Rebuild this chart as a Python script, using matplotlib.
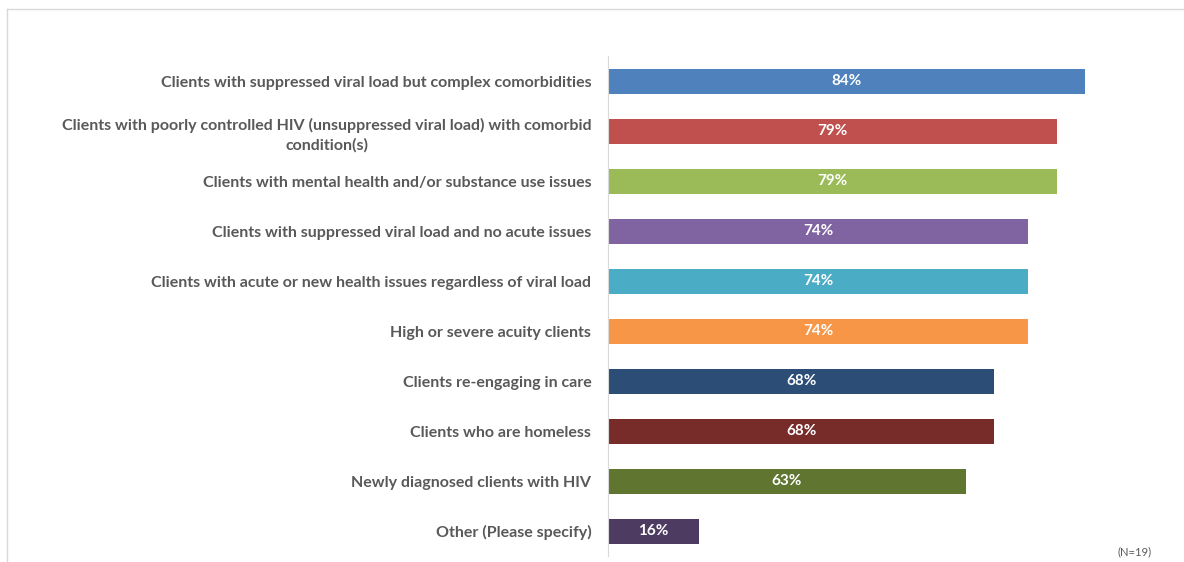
import matplotlib.pyplot as plt
from matplotlib.lines import Line2D

plt.rcParams['font.family'] = ['Lato', 'DejaVu Sans']

categories = [
    'Clients with suppressed viral load but complex comorbidities',
    'Clients with poorly controlled HIV (unsuppressed viral load) with comorbid\ncondition(s)',
    'Clients with mental health and/or substance use issues',
    'Clients with suppressed viral load and no acute issues',
    'Clients with acute or new health issues regardless of viral load',
    'High or severe acuity clients',
    'Clients re-engaging in care',
    'Clients who are homeless',
    'Newly diagnosed clients with HIV',
    'Other (Please specify)',
]
values = [84, 79, 79, 74, 74, 74, 68, 68, 63, 16]
colors = ['#4F81BD', '#C0504D', '#9BBB59', '#8064A2', '#4BACC6',
          '#F79646', '#2C4D75', '#772C2A', '#5F7530', '#4D3B62']

fig = plt.figure(figsize=(11.84, 5.62), dpi=100)
ax = fig.add_axes([0.5135, 0.0105, 0.4797, 0.8897])

pos = list(range(len(categories)))
ax.barh(pos, values, height=0.5, color=colors)
ax.set_ylim(len(categories) - 0.5, -0.5)
ax.set_xlim(0, 100)

for y, v in zip(pos, values):
    ax.text(v / 2, y, f'{v}%', ha='center', va='center', color='white',
            fontsize=11, fontweight='bold')

ax.set_yticks(pos)
ax.set_yticklabels(categories, fontsize=11.5, fontweight='bold', color='#595959',
                   multialignment='center', linespacing=1.45)
ax.tick_params(axis='y', length=0, pad=12)
ax.set_xticks([])
for side in ['top', 'right', 'bottom']:
    ax.spines[side].set_visible(False)
ax.spines['left'].set_color('#D9D9D9')
ax.spines['left'].set_linewidth(0.8)

fig.text(0.958, 0.019, '(N=19)', ha='center', va='center', fontsize=8, color='#595959')

# outer frame lines
fig.add_artist(Line2D([7 / 1184, 1], [1 - 9 / 562] * 2, color='#D9D9D9', lw=1))
fig.add_artist(Line2D([7 / 1184] * 2, [0, 1 - 9 / 562], color='#D9D9D9', lw=1))

fig.savefig('out.png', dpi=100)
